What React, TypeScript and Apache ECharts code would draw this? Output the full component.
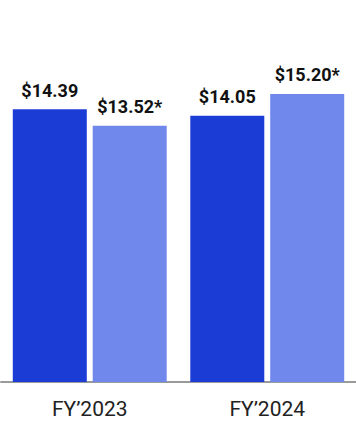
import React, { useEffect, useRef } from "react";
import * as echarts from "echarts";

const categories = ["FY’2023", "FY’2024"];
const seriesA = [14.39, 14.05];
const seriesB = [13.52, 15.2];
const labelsA = ["$14.39", "$14.05"];
const labelsB = ["$13.52*", "$15.20*"];

export default function App() {
  const ref = useRef<HTMLDivElement>(null);
  useEffect(() => {
    document.body.style.margin = "0";
    const chart = echarts.init(ref.current!, null, { renderer: "svg" });
    const labelStyle = {
      show: true,
      position: "top" as const,
      distance: 10,
      fontFamily: "Roboto",
      fontWeight: "bold" as const,
      fontSize: 18,
      color: "#111",
    };
    chart.setOption({
      animation: false,
      grid: { left: 1, right: 0, top: 3, bottom: 40 },
      xAxis: {
        type: "category",
        data: categories,
        axisTick: { show: false },
        axisLine: { lineStyle: { color: "#9a9a9a", width: 2 } },
        axisLabel: {
          fontFamily: "Roboto",
          fontSize: 21,
          color: "#222",
          margin: 16,
        },
      },
      yAxis: {
        type: "value",
        min: 0,
        max: 20,
        show: false,
        splitLine: { show: false },
      },
      series: [
        {
          type: "bar",
          data: seriesA,
          barWidth: 74,
          barGap: "8%",
          itemStyle: { color: "#1b3dd6" },
          label: { ...labelStyle, formatter: (p: any) => labelsA[p.dataIndex] },
        },
        {
          type: "bar",
          data: seriesB,
          barWidth: 74,
          itemStyle: { color: "#7088ec" },
          label: { ...labelStyle, formatter: (p: any) => labelsB[p.dataIndex] },
        },
      ],
    });
    return () => chart.dispose();
  }, []);
  return <div ref={ref} style={{ width: 356, height: 422 }} />;
}
